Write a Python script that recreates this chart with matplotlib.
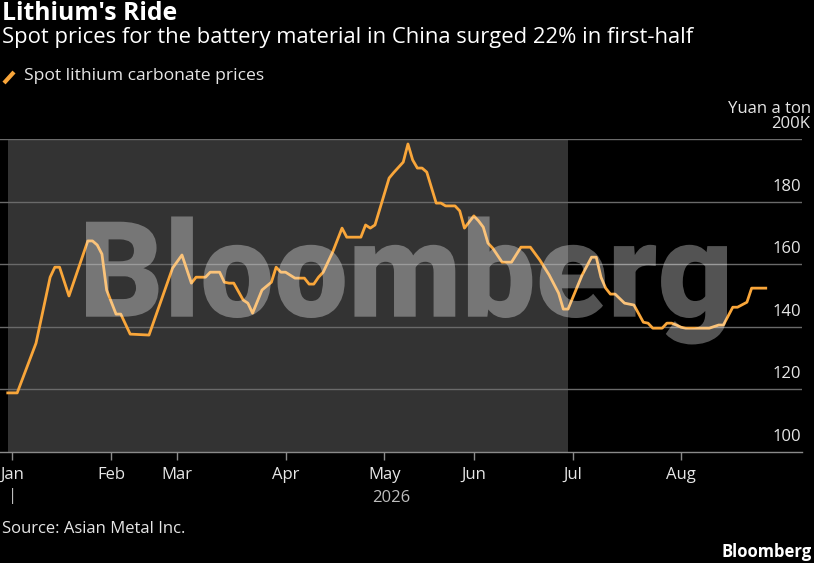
import matplotlib
matplotlib.use("Agg")
import matplotlib.pyplot as plt
from matplotlib.textpath import TextPath
from matplotlib.patches import PathPatch
from matplotlib.font_manager import FontProperties
from matplotlib.transforms import Affine2D, IdentityTransform, blended_transform_factory, ScaledTranslation
from matplotlib.lines import Line2D

# trading-day index (0 = first trading day of January) and price, thousand yuan a ton
days = [-1, 1, 5, 8, 9, 10, 12, 16, 17, 18, 19, 20, 22, 23, 25, 29, 34, 36, 38, 39,
        41, 42, 44, 45, 46, 47, 49, 50, 51, 53, 55, 56, 57, 58, 60, 62, 63, 64, 65, 66,
        68, 70, 71, 74, 75, 76, 77, 80, 81, 83, 84, 85, 86, 87, 88, 90, 91, 92, 94, 95,
        96, 98, 99, 100, 101, 102, 104, 106, 108, 110, 112, 114, 116, 117, 118, 121, 123, 124, 125, 126,
        127, 128, 130, 132, 134, 135, 136, 138, 139, 140, 141, 142, 143, 148, 150, 151, 153, 154, 156, 157,
        160]
prices = [118.9, 118.9, 134.8, 155.9, 159.1, 159.1, 149.9, 167.5, 167.5, 166.2, 163.3, 151.8, 144.1, 144.1, 137.7, 137.4, 158.8, 163.0, 154.0, 155.9,
          155.9, 157.5, 157.5, 154.3, 154.0, 154.0, 148.6, 147.6, 144.4, 151.8, 154.3, 159.1, 157.5, 157.5, 155.6, 155.6, 153.7, 153.7, 155.9, 157.5,
          163.9, 171.6, 168.7, 168.7, 172.6, 171.6, 172.6, 187.6, 189.4, 192.7, 198.5, 193.4, 190.8, 190.8, 189.5, 179.6, 179.6, 178.7, 178.7, 177.1,
          171.6, 175.5, 173.9, 171.9, 166.8, 165.2, 160.7, 160.7, 165.5, 165.5, 161.4, 156.6, 150.8, 145.7, 145.7, 156.6, 162.3, 162.3, 155.9, 152.4,
          150.5, 150.5, 147.6, 147.0, 141.5, 141.2, 139.6, 139.6, 141.2, 141.2, 140.6, 139.9, 139.6, 139.6, 140.6, 140.6, 146.3, 146.3, 147.9, 152.4,
          152.4]

month_labels = ["Jan", "Feb", "Mar", "Apr", "May", "Jun", "Jul", "Aug"]
month_starts = [0, 21, 35, 58, 79, 98, 119, 142]
y_ticks = [100, 120, 140, 160, 180, 200]
y_labels = ["100", "120", "140", "160", "180", "200K"]
first_half_end = 118  # last trading day of June

W, H = 814, 563
BG = "black"
ORANGE = "#f9a63a"
GRID = "#6a6a6a"
TXT = "#e6e6e6"
FONT = "Open Sans"

plt.rcParams["font.family"] = [FONT, "DejaVu Sans"]

fig = plt.figure(figsize=(W / 100, H / 100), dpi=100, facecolor=BG)
ax = fig.add_axes([0, (H - 452) / H, 802 / W, (452 - 139.3) / H])
ax.set_facecolor(BG)
ax.set_xlim(-2.65, 167.7)
ax.set_ylim(100, 200)

# first-half shading
ax.axvspan(days[0], first_half_end, color="#333333", lw=0, zorder=0)

for v in y_ticks[1:]:
    ax.axhline(v, color=GRID, lw=1, zorder=1)

ax.plot(days, prices, color=ORANGE, lw=2.0, solid_joinstyle="round", zorder=3)

for s in ["top", "right", "left"]:
    ax.spines[s].set_visible(False)
ax.spines["bottom"].set_color("#8a8a8a")
ax.spines["bottom"].set_linewidth(1)
ax.set_yticks([])
ax.set_xticks(month_starts)
ax.set_xticklabels(month_labels)
ax.tick_params(axis="x", colors="#8a8a8a", length=6, width=1, direction="out",
               labelcolor=TXT, labelsize=12, pad=5)

# y labels sit above their grid lines, right aligned
ylab_tr = blended_transform_factory(ax.transAxes, ax.transData) + ScaledTranslation(0, 0.07, fig.dpi_scale_trans)
for v, lab in zip(y_ticks, y_labels):
    xr = 0.999 if lab != "200K" else 1.0 + 8 / 802
    ax.text(xr, v, lab, transform=ylab_tr, ha="right", va="bottom",
            color=TXT, fontsize=12)
ax.text(1.0 + 9 / 802, 1.0, "Yuan a ton", transform=ax.transAxes + ScaledTranslation(0, 0.22, fig.dpi_scale_trans),
        ha="right", va="bottom", color=TXT, fontsize=12)

# year label
xyear = blended_transform_factory(ax.transData, ax.transAxes)
ax.text((days[0] + days[-1]) / 2 + 1, -0.12, "2026", transform=xyear, ha="center", va="top",
        color="#bdbdbd", fontsize=12)
ax.text(month_starts[0], -0.115, "|", transform=xyear, ha="center", va="top",
        color="#bdbdbd", fontsize=12)

# header
fig.text(2 / W, 1 - 1 / H, "Lithium's Ride", ha="left", va="top", color="white",
         fontsize=17.8, fontweight="bold")
fig.text(2 / W, 1 - 27 / H, "Spot prices for the battery material in China surged 22% in first-half",
         ha="left", va="top", color="white", fontsize=15.8)
fig.add_artist(Line2D([4 / W, 14 / W], [1 - 83 / H, 1 - 72 / H], color=ORANGE, lw=3,
                      solid_capstyle="butt"))
fig.text(24 / W, 1 - 68 / H, "Spot lithium carbonate prices", ha="left", va="top",
         color=TXT, fontsize=12.6)

fig.text(2 / W, 1 - 521 / H, "Source: Asian Metal Inc.", ha="left", va="top", color=TXT, fontsize=12)
fig.text(812 / W, 1 - 543 / H, "Bloomberg", ha="right", va="top", color="white",
         fontsize=12, fontweight="bold")

# watermark, stretched into its box
fp = FontProperties(family=["Roboto", "Liberation Sans"], weight=900)
tp = TextPath((0, 0), "Bloomberg", size=100, prop=fp)
bb = tp.get_extents()
capb = TextPath((0, 0), "B", size=100, prop=fp).get_extents()
sx = (727 - 86) / bb.width
sy = (316.7 - 221.7) / capb.height
tr = Affine2D().translate(-bb.x0, 0).scale(sx, sy).translate(86, H - 316.7)
wm = PathPatch(tr.transform_path(tp), transform=IdentityTransform(), facecolor="white",
               edgecolor="none", alpha=0.33, zorder=5)
fig.add_artist(wm)

fig.savefig("out.png", dpi=100, facecolor=BG)
